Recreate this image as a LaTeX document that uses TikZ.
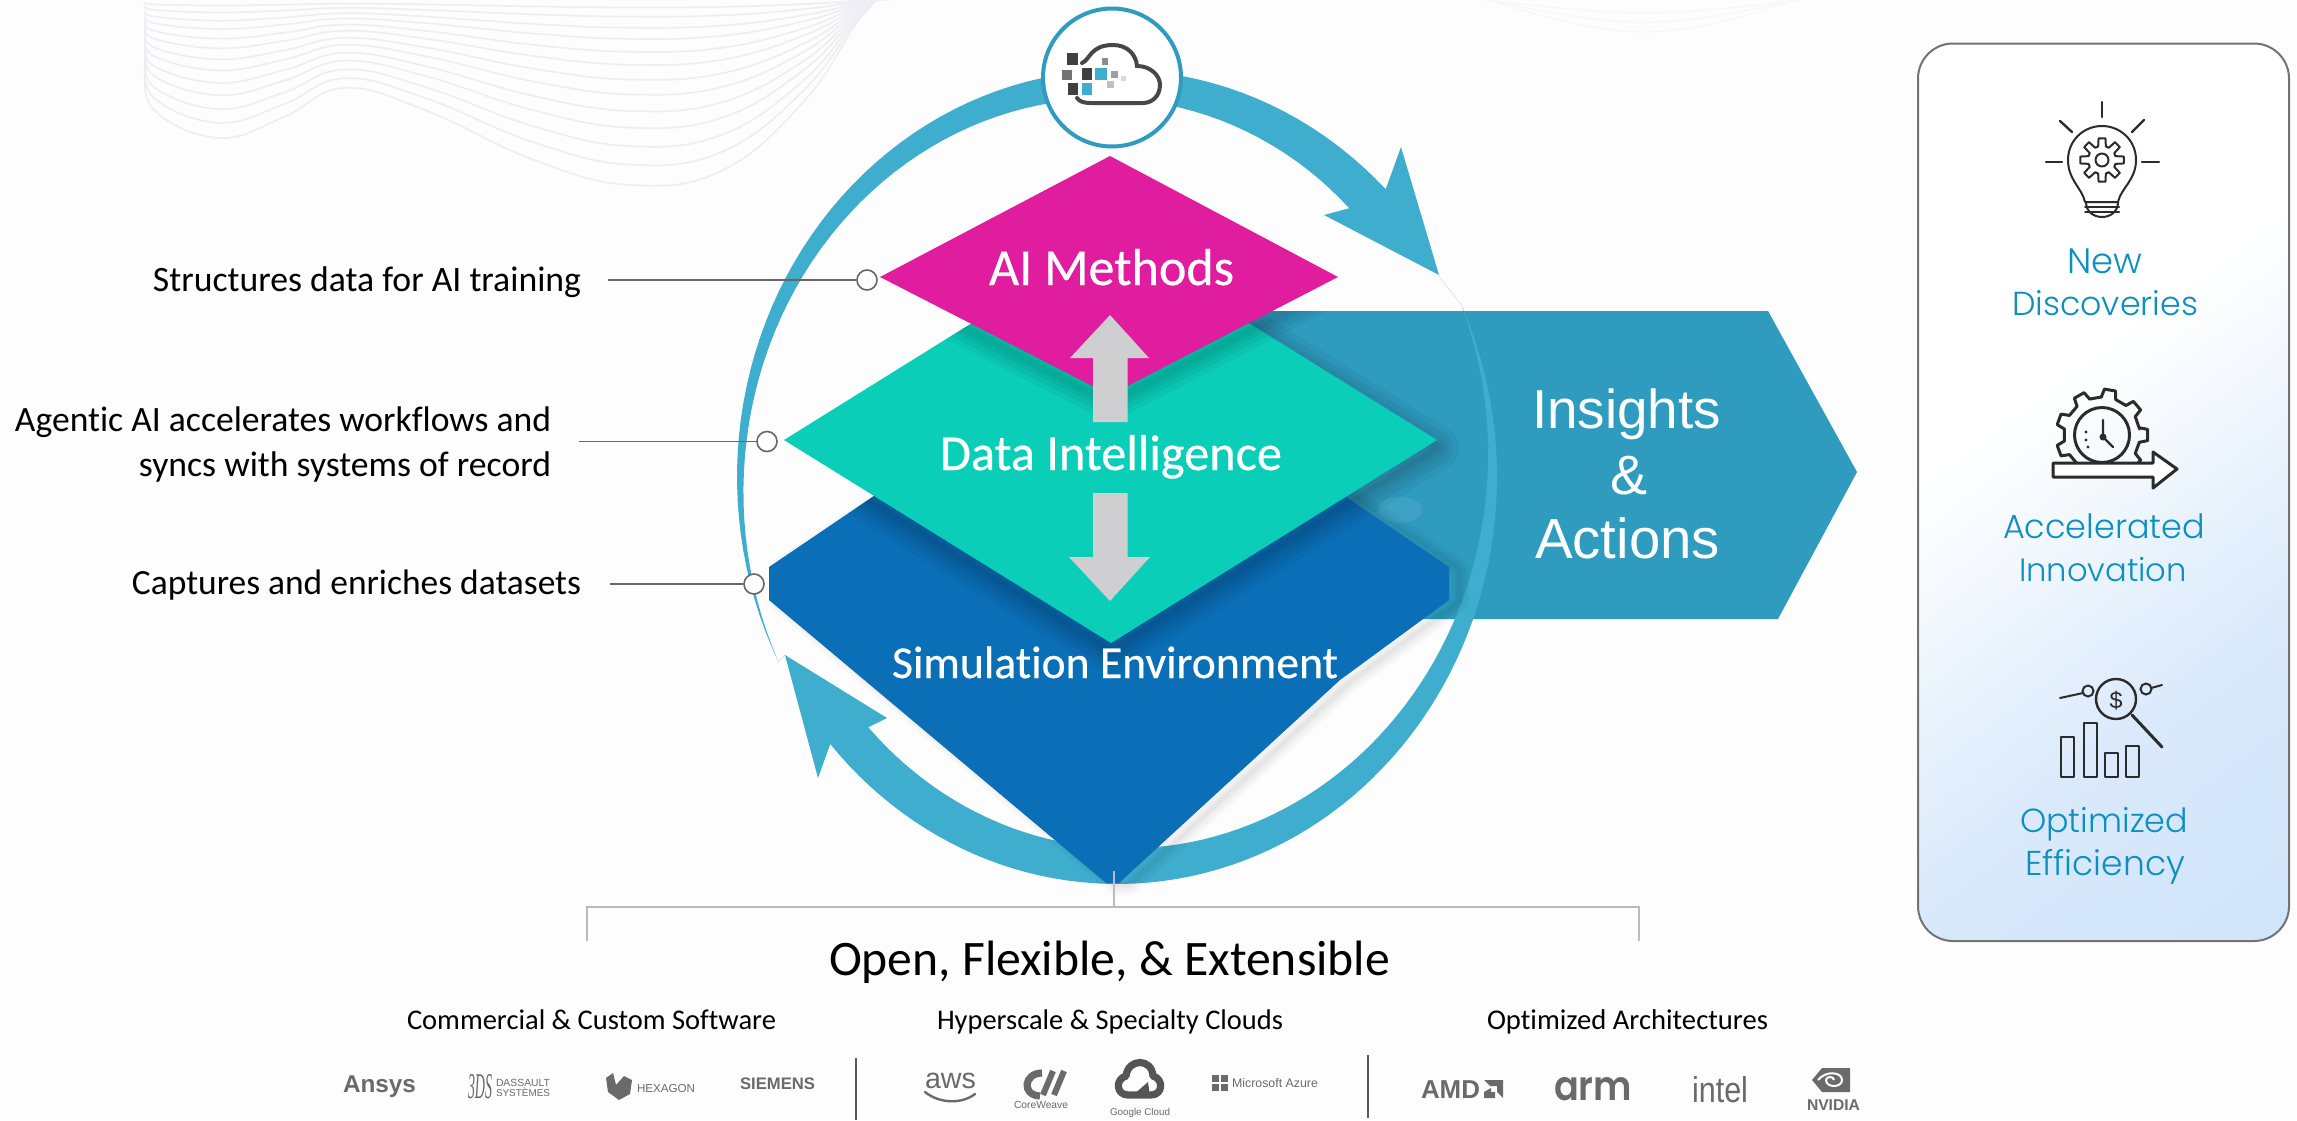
\documentclass[tikz,border=0pt]{standalone}
\usepackage{fontspec}
\usepackage{graphicx}
\setmainfont{Carlito}[Ligatures=NoCommon]
\newfontfamily\medf{Carlito}[Ligatures=NoCommon,FakeBold=0.45]
\newfontfamily\helv{Liberation Sans}
\newfontfamily\serifl{Liberation Serif}
\newfontfamily\panelf{Poppins Light}
\newfontfamily\popb{Poppins SemiBold}
\newlength\pxu \setlength\pxu{0.5pt}
\newcommand\fw[2]{\resizebox{#1\pxu}{!}{#2}}
\newcommand\fwh[3]{\resizebox{#1\pxu}{#2\pxu}{#3}}
\definecolor{bgc}{HTML}{FDFDFD}
\definecolor{ringc}{HTML}{3FAECE}
\definecolor{insc}{HTML}{2F9BBF}
\definecolor{bluec}{HTML}{0B6FB8}
\definecolor{tealc}{HTML}{0BCEB9}
\definecolor{magc}{HTML}{E01D9F}
\definecolor{arrc}{HTML}{CFCFD1}
\definecolor{wavec}{HTML}{EDEDF3}
\definecolor{leadc}{HTML}{666666}
\definecolor{brk}{HTML}{BBBBBB}
\definecolor{panelt}{HTML}{0D8FBF}
\definecolor{logoc}{HTML}{6A6A6A}
\definecolor{ink}{HTML}{2B2B2B}
\definecolor{pa}{HTML}{FFFFFF}
\definecolor{pb}{HTML}{F3F8FD}
\definecolor{pc}{HTML}{E6F1FC}
\definecolor{pd}{HTML}{DAE9FB}
\definecolor{pe}{HTML}{CDE3FA}
\definecolor{pf}{HTML}{C3DDF9}
\definecolor{pg}{HTML}{B0D4F7}
\pgfdeclareverticalshading{panelshade}{100bp}{color(0bp)=(pg); color(13bp)=(pg); color(17bp)=(pf); color(28bp)=(pe); color(41bp)=(pd); color(46bp)=(pc); color(50bp)=(pb); color(55bp)=(pa); color(100bp)=(pa)}
\tikzset{
  lab/.style={inner sep=0pt,outer sep=0pt,anchor=base west},
  labr/.style={inner sep=0pt,outer sep=0pt,anchor=base east},
  labc/.style={inner sep=0pt,outer sep=0pt,anchor=base},
  dotn/.style={circle,draw=leadc,fill=white,line width=0.8pt,minimum size=10pt,inner sep=0pt},
  leadl/.style={draw=leadc,line width=0.8pt},
  brl/.style={draw=brk,line width=1pt},
  divl/.style={draw=black!65,line width=0.8pt},
  iconl/.style={draw=ink,line width=1.2pt,line join=round,line cap=round},
  fadec/.style={draw=wavec,line width=0.8pt},
}
\def\bluepath{(769,567) -- (1110,336) -- (1449,567) -- (1449,600) -- (1340,680) -- (1119,883) -- (1106,883) -- (769,600) -- cycle}
\def\tealpath{(784,440) -- (1110,237) -- (1437,440) -- (1111,643) -- cycle}
\def\magpath{(880,277) -- (1110,156) -- (1338,277) -- (1110,395) -- cycle}
\def\inspath{(1240,311) -- (1768,311) -- (1857,472) -- (1778,619) -- (1240,619) -- cycle}
\begin{document}
\begin{tikzpicture}[x=0.5pt,y=-0.5pt]
\useasboundingbox (0,0) rectangle (2297,1120);
\fill[bgc] (0,0) rectangle (2297,1120);
% background waves
\begin{scope}
\clip (0,0) rectangle (2297,1120);
\foreach \s in {1,.89,.79,.69,.6,.51,.43,.35,.28,.21,.15,.09,.04}{
  \begin{scope}[yscale=\s]
  \draw[fadec] plot[smooth,tension=.7] coordinates {(146,67)(154,110)(219,138)(284,117)(344,88)(425,110)(534,160)(631,185)(723,170)(805,100)(859,20)(897,-20)};
  \end{scope}
}
\foreach \s in {1,.7,.4}{
  \begin{scope}[yscale=\s]
  \draw[draw=bgc!60!wavec,line width=0.6pt] plot[smooth,tension=.6] coordinates {(1470,-5)(1560,20)(1640,32)(1720,22)(1810,-5)};
  \end{scope}
}
\end{scope}
% insights arrow
\fill[insc] \inspath;
\fill[white,opacity=.07] (1400,510) ellipse (22 and 13);
% ring arrows
\fill[ringc] (1439,275) -- (1401,147)
  -- plot[domain=45:207,samples=70,variable=\t] ({1117+380*cos(\t)},{477-407*sin(\t)})
  -- (785,655)
  -- plot[domain=207:47,samples=70,variable=\t] ({1117+(380-40*(207-\t)/162)*cos(\t)},{477-(407-40*(207-\t)/162)*sin(\t)})
  -- (1324,215) -- cycle;
\fill[ringc] (1438,275)
  -- plot[domain=25:-139,samples=80,variable=\t] ({1117+380*cos(\t)},{477-407*sin(\t)})
  -- (818,778) -- (785,655) -- (887,718)
  -- plot[domain=-137:25,samples=80,variable=\t] ({1117+(380-40*sin(90*(25-\t)/164))*cos(\t)},{477-(407-40*sin(90*(25-\t)/164))*sin(\t)})
  -- cycle;
% blue tier
\begin{scope}[shift={(10,2)}]
\foreach \w in {20,14,8,4}{\draw[black,opacity=.025,line width=\w*0.5pt,line join=round] \bluepath;}
\end{scope}
\fill[bluec] \bluepath;
% teal tier, its shadow only on the tier and the arrow below
\begin{scope}
\clip \bluepath \inspath;
\begin{scope}[shift={(0,8)}]
\foreach \w in {44,32,22,12,5}{\draw[black,opacity=.045,line width=\w*0.5pt,line join=round] \tealpath;}
\end{scope}
\end{scope}
\fill[tealc] \tealpath;
% magenta tier
\begin{scope}
\clip \tealpath \inspath;
\begin{scope}[shift={(0,8)}]
\foreach \w in {36,26,16,8}{\draw[black,opacity=.045,line width=\w*0.5pt,line join=round] \magpath;}
\end{scope}
\end{scope}
\fill[magc] \magpath;
% grey arrows
\fill[arrc] (1110,315) -- (1149,358) -- (1127.5,358) -- (1127.5,422) -- (1093,422) -- (1093,358) -- (1070,358) -- cycle;
\fill[arrc] (1110,601) -- (1150,557) -- (1127.5,557) -- (1127.5,493) -- (1093,493) -- (1093,557) -- (1069,557) -- cycle;
% tier labels
\node[lab,text=white] (ai) at (989,285) {\fw{245}{\medf AI Methods}};
\node[lab,text=white] (di) at (940,470) {\fw{342}{\medf Data Intelligence}};
\node[lab,text=white] (se) at (892,678) {\fw{446}{\medf Simulation Environment}};
\node[lab,text=white] (ins1) at (1532,428) {\fw{189}{\helv Insights}};
\node[labc,text=white] (ins2) at (1629,494) {\fw{37}{\helv \&}};
\node[lab,text=white] (ins3) at (1535,558) {\fw{185}{\helv Actions}};
% cloud badge
\node[circle,draw=insc,fill=white,line width=2pt,minimum size=69pt,inner sep=0pt] (badge) at (1112,77.5) {};
\draw[draw=black!72,line width=2pt,line cap=round] (1082,63) .. controls (1090,60) and (1090,45) .. (1113,45) .. controls (1128,45) and (1136,55) .. (1137,66) .. controls (1150,66) and (1160,75) .. (1160,85) .. controls (1160,96) and (1152,103) .. (1143,103) -- (1090,103) .. controls (1083,103) and (1079,101) .. (1077,98);
\fill[black!75] (1067,53) rectangle (1078,65);
\fill[black!75] (1068,83) rectangle (1078,95);
\fill[black!75] (1082,68) rectangle (1092,80);
\fill[black!55] (1062,70) rectangle (1072,80);
\fill[ringc] (1095,68) rectangle (1107,80);
\fill[ringc] (1082,83) rectangle (1092,95);
\fill[black!45] (1102,58) rectangle (1108,65);
\fill[black!38] (1111,71) rectangle (1118,78);
\fill[black!25] (1107,81) rectangle (1114,88);
\fill[black!15] (1121,76) rectangle (1126,81);
% left labels and leader lines
\node[labr] (t1) at (581,291) {\fw{428}{Structures data for AI training}};
\node[labr] (t2a) at (551,431) {\fw{536}{Agentic AI accelerates workflows and}};
\node[labr] (t2b) at (551,476.5) {\fw{412}{syncs with systems of record}};
\node[labr] (t3) at (581,594) {\fw{449}{Captures and enriches datasets}};
\coordinate (l1) at (608,280);
\coordinate (l2) at (579,441.5);
\coordinate (l3) at (610,584);
\node[dotn] (c1) at (867,280) {};
\node[dotn] (c2) at (767,441.5) {};
\node[dotn] (c3) at (754,584) {};
\draw[leadl] (l1) -- (c1);
\draw[leadl] (l2) -- (c2);
\draw[leadl] (l3) -- (c3);
% bracket
\coordinate (bs) at (1113.5,871);
\coordinate (bm) at (1113.5,907);
\coordinate (bl) at (586.5,907);
\coordinate (br) at (1638.5,907);
\coordinate (bld) at (586.5,941);
\coordinate (brd) at (1638.5,941);
\draw[brl] (bld) -- (bl) -- (br) -- (brd);
\draw[brl] (bs) -- (bm);
% bottom text
\node[lab] (title) at (829,975) {\fw{561}{Open, Flexible, \& Extensible}};
\node[lab] (s1) at (407,1029) {\fw{369}{Commercial \& Custom Software}};
\node[lab] (s2) at (937,1029) {\fw{346}{Hyperscale \& Specialty Clouds}};
\node[lab] (s3) at (1487,1029) {\fw{281}{Optimized Architectures}};
\coordinate (d1a) at (856,1058);
\coordinate (d1b) at (856,1120);
\coordinate (d2a) at (1368,1055);
\coordinate (d2b) at (1368,1118);
\draw[divl] (d1a) -- (d1b);
\draw[divl] (d2a) -- (d2b);
% logos
\node[lab,text=logoc] (lg1) at (343,1092) {\fw{73}{\helv\bfseries Ansys}};
\node[lab,text=logoc] (lg2) at (468,1098) {\fwh{24}{24}{\serifl\itshape 3DS}};
\node[lab,text=logoc] (lg2a) at (496,1086) {\fw{54}{\helv DASSAULT}};
\node[lab,text=logoc] (lg2b) at (496,1096) {\fw{54}{\helv SYST\`EMES}};
\fill[logoc] (606,1078) -- (613,1073) -- (616,1085) -- (624,1076) -- (632,1080) -- (630,1094) -- (619,1100) -- (608,1092) -- cycle;
\node[lab,text=logoc] (lg3) at (637,1092) {\fw{58}{\helv HEXAGON}};
\node[lab,text=logoc] (lg4) at (740,1089) {\fw{75}{\helv\bfseries SIEMENS}};
\node[lab,text=logoc] (lg5) at (925,1088) {\fw{51}{\helv aws}};
\draw[draw=logoc,line width=1.2pt,line cap=round] (925,1092) .. controls (940,1104) and (962,1104) .. (975,1094);
\draw[draw=logoc,line width=3.6pt] (1042,1073) .. controls (1024,1073) and (1021,1095) .. (1040,1096);
\draw[draw=logoc,line width=3pt] (1053,1071) -- (1043,1095);
\draw[draw=logoc,line width=3pt] (1064,1071) -- (1054,1095);
\node[lab,text=logoc] (lg6) at (1014,1108) {\fw{54}{\helv CoreWeave}};
\draw[draw=logoc!80!black,line width=3.6pt,line join=round] (1128,1095) .. controls (1116,1095) and (1115,1079) .. (1126,1076) .. controls (1128,1058) and (1152,1058) .. (1153,1076) .. controls (1164,1079) and (1163,1095) .. (1151,1095) -- cycle;
\fill[logoc!80!black] (1132,1096) -- (1148,1082) -- (1150,1096) -- cycle;
\node[lab,text=logoc] (lg7) at (1110,1115) {\fw{60}{\helv Google Cloud}};
\fill[logoc] (1212,1075) rectangle (1219,1082);
\fill[logoc] (1221,1075) rectangle (1228,1082);
\fill[logoc] (1212,1084) rectangle (1219,1091);
\fill[logoc] (1221,1084) rectangle (1228,1091);
\node[lab,text=logoc] (lg8) at (1232,1087) {\fw{86}{\helv Microsoft Azure}};
\node[lab,text=logoc] (lg9) at (1421,1098) {\fw{59}{\helv\bfseries AMD}};
\fill[logoc] (1484,1080) -- (1503,1080) -- (1503,1098) -- (1497,1092) -- (1497,1086) -- (1490,1086) -- cycle;
\fill[logoc] (1484,1092) -- (1491,1088) -- (1491,1092) -- (1495,1092) -- (1495,1098) -- (1484,1098) -- cycle;
\node[lab,text=logoc] (lg10) at (1554,1100) {\fwh{78}{23}{\popb arm}};
\node[lab,text=logoc] (lg11) at (1692,1102) {\fwh{56}{26}{\helv intel}};
\fill[logoc] (1822,1068) -- (1850,1068) -- (1850,1092) -- (1822,1092) -- (1812,1080) -- cycle;
\draw[draw=white,line width=1pt] (1818,1080) .. controls (1826,1070) and (1842,1072) .. (1842,1080) .. controls (1842,1088) and (1826,1088) .. (1826,1080) .. controls (1826,1076) and (1834,1076) .. (1834,1080);
\node[lab,text=logoc] (lg12) at (1807,1110) {\fw{53}{\helv\bfseries NVIDIA}};
% right panel
\begin{scope}
\clip[rounded corners=17.5pt] (1918,43.5) rectangle (2289,941);
\fill[shading=panelshade,shading angle=0,transform canvas={rotate around={37:(2103.5,492)}}] (1503.5,-108) rectangle (2703.5,1092);
\end{scope}
\draw[draw=black!55,line width=1pt,rounded corners=17.5pt] (1918,43.5) rectangle (2289,941);
% bulb icon
\draw[iconl] (2102,102) -- (2102,117);
\draw[iconl] (2060,121) -- (2072,132);
\draw[iconl] (2144,120) -- (2132,132);
\draw[iconl] (2046,162) -- (2062,162);
\draw[iconl] (2142,162) -- (2159,162);
\draw[iconl,line width=1pt] (2085,202) .. controls (2082,188) and (2068,180) .. (2068,160) .. controls (2068,140) and (2084,126) .. (2102,126) .. controls (2120,126) and (2136,140) .. (2136,160) .. controls (2136,180) and (2121,188) .. (2118,202) -- cycle;
\draw[iconl,line width=1pt] (2085,207) -- (2119,207);
\draw[iconl,line width=1pt] (2085,212) -- (2119,212);
\draw[iconl,line width=1pt] (2086,202) .. controls (2086,222) and (2118,222) .. (2118,202);
\begin{scope}[shift={(2102,160)}]
\draw[iconl,line width=1pt] (-16:14) \foreach \a in {0,45,...,315}{ -- (\a-16:14) -- (\a-9:22) -- (\a+9:22) -- (\a+16:14)} -- cycle;
\draw[iconl,line width=1pt] (0,0) circle (6.5);
\end{scope}
% gear clock icon
\begin{scope}
\clip (2040,385) rectangle (2190,463);
\begin{scope}[shift={(2102,435)}]
\draw[iconl,line width=1.5pt] (-9:38) \foreach \a in {0,40,...,320}{ -- (\a-11:38) -- (\a-7:46) -- (\a+7:46) -- (\a+11:38)} -- cycle;
\end{scope}
\end{scope}
\draw[iconl,line width=1.5pt] (2102,435) circle (27.5);
\draw[iconl] (2103,420) -- (2103,437) -- (2113,447);
\fill[ink] (2103,437) circle (3.5);
\fill[ink] (2086,432) circle (1.6) (2086,440) circle (1.6) (2088,447) circle (1.6);
\draw[iconl,line width=1.5pt,fill=white] (2053,463) -- (2153,463) -- (2153,452) -- (2177,469) -- (2153,488) -- (2153,477) -- (2053,477) -- cycle;
% efficiency icon
\draw[iconl] (2116,699) circle (20);
\node[labc,text=ink] (dollar) at (2116,708) {\fw{13}{\helv\$}};
\draw[iconl,line width=1.5pt] (2132,715) -- (2162,747);
\draw[iconl,line width=1pt] (2060,698) -- (2083,693);
\node[circle,draw=ink,line width=1pt,minimum size=5.5pt,inner sep=0pt] (n1) at (2088,691) {};
\node[circle,draw=ink,line width=1pt,minimum size=5.5pt,inner sep=0pt] (n2) at (2146,689) {};
\draw[iconl,line width=1pt] (2151,688) -- (2162,685);
\draw[iconl,line cap=butt] (2061,737) rectangle (2074,777);
\draw[iconl,line cap=butt] (2084,723) rectangle (2097,777);
\draw[iconl,line cap=butt] (2105,753) rectangle (2118,777);
\draw[iconl,line cap=butt] (2126,746) rectangle (2139,777);
% panel text
\node[labc,text=panelt] (p1) at (2104.5,273) {\fw{75}{\panelf New}};
\node[labc,text=panelt] (p2) at (2105,315) {\fw{186}{\panelf Discoveries}};
\node[labc,text=panelt] (p3) at (2104,538) {\fw{202}{\panelf Accelerated}};
\node[labc,text=panelt] (p4) at (2103,581) {\fw{168}{\panelf Innovation}};
\node[labc,text=panelt] (p5) at (2104,832) {\fw{168}{\panelf Optimized}};
\node[labc,text=panelt] (p6) at (2105,875) {\fw{160}{\panelf Efficiency}};
\end{tikzpicture}
\end{document}
